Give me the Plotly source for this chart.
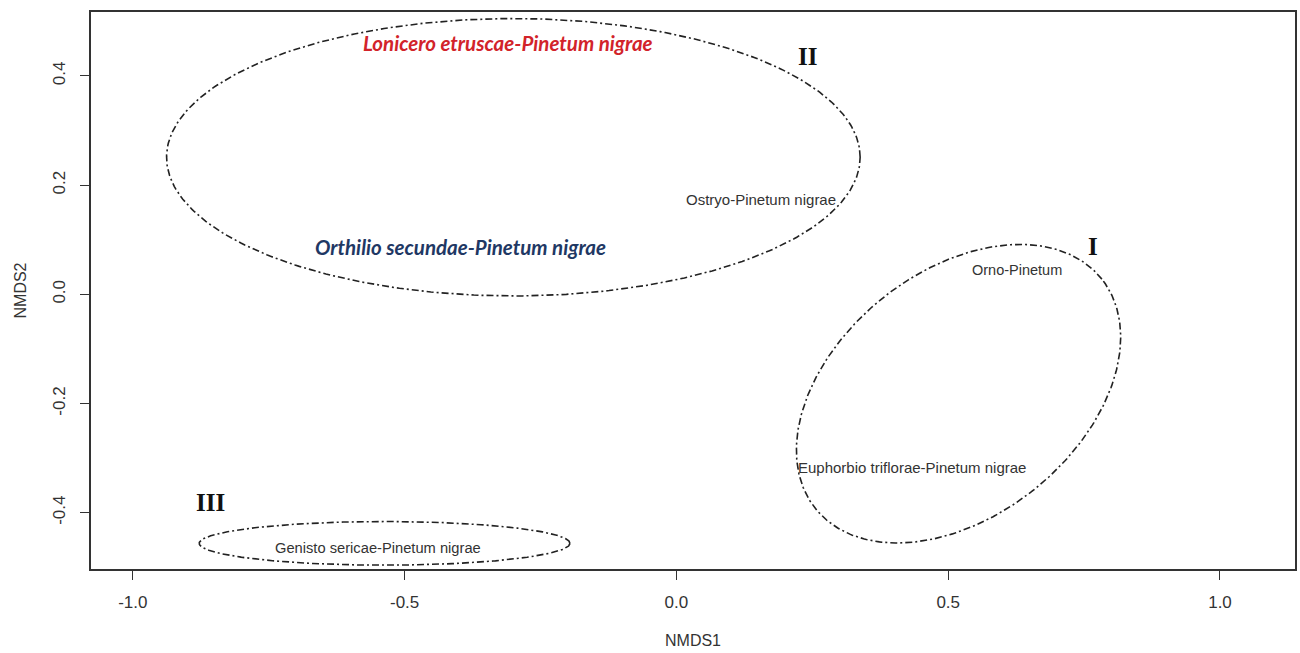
import numpy as np
import plotly.graph_objects as go

# Ellipse parameters (NMDS space): group, centre x, centre y, semi-axis a, semi-axis b, angle (deg)
groups = ["I", "II", "III"]
ell_cx = [0.519, -0.30, -0.537]
ell_cy = [-0.182, 0.251, -0.456]
ell_a = [0.337, 0.638, 0.341]
ell_b = [0.224, 0.254, 0.040]
ell_ang = [38.5, 0.0, 0.0]

# Association labels
assoc_names = ["Lonicero etruscae-Pinetum nigrae", "Orthilio secundae-Pinetum nigrae",
               "Ostryo-Pinetum nigrae", "Orno-Pinetum",
               "Euphorbio triflorae-Pinetum nigrae", "Genisto sericae-Pinetum nigrae"]
assoc_x = [-0.310, -0.397, 0.156, 0.626, 0.433, -0.549]
assoc_y = [0.460, 0.086, 0.174, 0.045, -0.317, -0.465]

# Group numerals
num_labels = ["II", "I", "III"]
num_x = [0.241, 0.766, -0.858]
num_y = [0.436, 0.088, -0.382]

x_ticks = [-1.0, -0.5, 0.0, 0.5, 1.0]
y_ticks = [-0.4, -0.2, 0.0, 0.2, 0.4]

fig = go.Figure()

t = np.linspace(0, 2 * np.pi, 400)
for g, cx, cy, a, b, ang in zip(groups, ell_cx, ell_cy, ell_a, ell_b, ell_ang):
    th = np.deg2rad(ang)
    xs = cx + a * np.cos(t) * np.cos(th) - b * np.sin(t) * np.sin(th)
    ys = cy + a * np.cos(t) * np.sin(th) + b * np.sin(t) * np.cos(th)
    fig.add_trace(go.Scatter(x=xs, y=ys, mode="lines", name=g, showlegend=False,
                             line=dict(color="#222222", width=1.6, dash="7px,3px,2px,3px"),
                             hoverinfo="skip"))

styles = [
    dict(family="Lato, Open Sans, sans-serif", size=20.5, color="#d2232a", italic=True),
    dict(family="Lato, Open Sans, sans-serif", size=20.5, color="#1f3864", italic=True),
    dict(family="Liberation Sans, Arial, sans-serif", size=15, color="#333333"),
    dict(family="Liberation Sans, Arial, sans-serif", size=14.5, color="#333333"),
    dict(family="Liberation Sans, Arial, sans-serif", size=15, color="#333333"),
    dict(family="Liberation Sans, Arial, sans-serif", size=14.7, color="#333333"),
]
for name, x, y, st in zip(assoc_names, assoc_x, assoc_y, styles):
    italic = st.pop("italic", False)
    txt = f"<b><i>{name}</i></b>" if italic else name
    fig.add_annotation(x=x, y=y, text=txt, showarrow=False, font=st,
                       xanchor="center", yanchor="middle")

for lab, x, y in zip(num_labels, num_x, num_y):
    fig.add_annotation(x=x, y=y, text=f"<b>{lab}</b>", showarrow=False,
                       font=dict(family="Liberation Serif, Times New Roman, serif", size=25, color="#111111"),
                       xanchor="center", yanchor="middle")

# Axis titles
fig.add_annotation(xref="paper", yref="paper", x=0.5, y=0, yshift=-71, text="NMDS1",
                   showarrow=False, font=dict(family="Liberation Sans, Arial, sans-serif", size=16, color="#333333"),
                   xanchor="center", yanchor="middle")
fig.add_annotation(xref="paper", yref="paper", x=0, xshift=-71, y=0.5, text="NMDS2", textangle=-90,
                   showarrow=False, font=dict(family="Liberation Sans, Arial, sans-serif", size=16, color="#333333"),
                   xanchor="center", yanchor="middle")

axis_common = dict(showline=True, linecolor="#333333", linewidth=1.6, mirror=True,
                   ticks="outside", ticklen=9, tickwidth=1.4, tickcolor="#333333",
                   showgrid=False, zeroline=False,
                   tickfont=dict(family="Liberation Sans, Arial, sans-serif", size=17, color="#333333"))

fig.update_xaxes(range=[-1.077, 1.138], tickvals=x_ticks, ticktext=[f"{v:.1f}" for v in x_ticks],
                 ticklabelstandoff=8, **axis_common)
fig.update_yaxes(range=[-0.503, 0.517], tickvals=y_ticks, ticktext=[f"{v:.1f}" for v in y_ticks],
                 tickangle=-90, ticklabelstandoff=8, **axis_common)

fig.update_layout(width=1300, height=653, margin=dict(l=91, r=3, t=12, b=84),
                  paper_bgcolor="white", plot_bgcolor="white", showlegend=False)

fig.write_html("out.html")
